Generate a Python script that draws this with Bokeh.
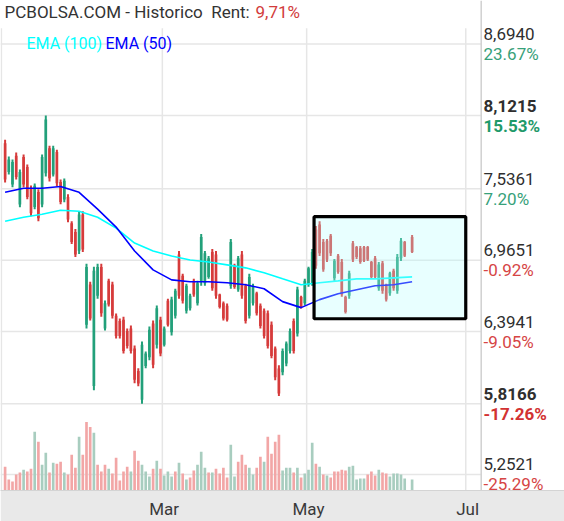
from bokeh.plotting import figure
from bokeh.models import Range1d, FixedTicker, ColumnDataSource
from bokeh.core.properties import value
from bokeh.embed import file_html
from bokeh.resources import INLINE

# ---------------- data ----------------
# trading-session slot (slot 109 had no session)
day = list(range(109)) + [110]
high = [7.929, 7.794, 7.770, 7.826, 7.691, 7.810, 7.730, 7.563, 7.579, 7.532,
        7.810, 8.1215, 7.881, 7.881, 7.849, 7.611, 7.619, 7.492, 7.277, 7.214,
        7.357, 7.357, 6.936, 6.793, 6.912, 6.936, 6.936, 6.642, 6.816, 6.793,
        6.538, 6.499, 6.514, 6.419, 6.443, 6.284, 6.101, 6.316, 6.236, 6.435,
        6.483, 6.602, 6.514, 6.435, 6.657, 6.673, 6.737, 7.039, 6.856, 6.777,
        6.697, 6.816, 6.800, 7.174, 7.039, 6.999, 7.055, 7.039, 6.697, 6.634,
        6.618, 7.134, 6.936, 6.999, 7.039, 6.777, 6.856, 6.777, 6.713, 6.618,
        6.578, 6.562, 6.475, 6.276, 6.125, 6.260, 6.316, 6.419, 6.499, 6.753,
        6.681, 6.816, 6.912, 7.055, 7.238, 7.277, 7.134, 7.134, 7.174, 6.975,
        7.015, 6.975, 6.681, 6.880, 7.118, 7.079, 7.079, 7.079, 7.079, 6.959,
        6.999, 6.951, 6.959, 6.777, 6.872, 6.896, 7.015, 7.142, 7.118, 7.166]
low = [7.587, 7.651, 7.548, 7.611, 7.389, 7.548, 7.452, 7.317, 7.373, 7.277,
       7.389, 7.635, 7.595, 7.635, 7.555, 7.412, 7.428, 7.269, 7.095, 6.991,
       7.015, 7.031, 6.419, 6.483, 5.926, 6.657, 6.514, 6.403, 6.594, 6.499,
       6.340, 6.340, 6.220, 6.260, 6.220, 5.982, 5.958, 5.8166, 6.101, 6.165,
       6.101, 6.260, 6.197, 6.276, 6.435, 6.363, 6.499, 6.657, 6.618, 6.538,
       6.562, 6.673, 6.602, 6.761, 6.761, 6.816, 6.721, 6.657, 6.578, 6.483,
       6.475, 6.737, 6.737, 6.713, 6.657, 6.459, 6.499, 6.602, 6.523, 6.419,
       6.340, 6.260, 6.181, 6.006, 5.879, 6.046, 6.117, 6.220, 6.220, 6.355,
       6.578, 6.602, 6.753, 6.761, 6.896, 6.999, 6.872, 6.951, 6.999, 6.800,
       6.856, 6.673, 6.538, 6.657, 6.951, 6.975, 6.936, 6.951, 6.959, 6.816,
       6.816, 6.721, 6.697, 6.634, 6.681, 6.721, 6.697, 6.959, 6.991, 7.023]
open_ = [7.90, 7.67, 7.57, 7.80, 7.41, 7.79, 7.71, 7.54, 7.39, 7.51,
         7.41, 7.66, 7.86, 7.65, 7.83, 7.59, 7.45, 7.47, 7.26, 7.19,
         7.04, 7.33, 6.45, 6.77, 5.96, 6.68, 6.91, 6.42, 6.80, 6.77,
         6.52, 6.48, 6.49, 6.40, 6.42, 6.26, 6.08, 5.85, 6.12, 6.19,
         6.46, 6.29, 6.49, 6.29, 6.64, 6.39, 6.52, 7.01, 6.84, 6.56,
         6.58, 6.80, 6.62, 6.79, 6.78, 6.83, 7.03, 7.01, 6.69, 6.62,
         6.60, 6.76, 6.92, 6.73, 7.01, 6.76, 6.52, 6.62, 6.70, 6.60,
         6.56, 6.54, 6.45, 6.26, 6.10, 6.07, 6.14, 6.24, 6.48, 6.38,
         6.67, 6.62, 6.77, 6.78, 7.21, 7.25, 7.11, 7.12, 7.16, 6.82,
         7.00, 6.95, 6.67, 6.68, 7.10, 7.07, 7.06, 7.07, 7.07, 6.95,
         6.98, 6.74, 6.94, 6.77, 6.70, 6.88, 6.72, 6.98, 7.11, 7.15]
close = [7.61, 7.77, 7.75, 7.63, 7.67, 7.57, 7.47, 7.34, 7.56, 7.30,
         7.79, 8.09, 7.62, 7.86, 7.58, 7.43, 7.60, 7.29, 7.11, 7.01,
         7.33, 7.05, 6.91, 6.50, 6.88, 6.91, 6.54, 6.62, 6.61, 6.52,
         6.36, 6.36, 6.24, 6.28, 6.24, 6.01, 5.98, 6.29, 6.22, 6.41,
         6.13, 6.58, 6.22, 6.42, 6.45, 6.65, 6.72, 6.68, 6.64, 6.76,
         6.68, 6.69, 6.78, 7.15, 7.02, 6.98, 6.74, 6.68, 6.59, 6.50,
         6.49, 7.11, 6.75, 6.98, 6.68, 6.48, 6.83, 6.76, 6.54, 6.44,
         6.36, 6.28, 6.20, 6.03, 5.90, 6.24, 6.30, 6.40, 6.24, 6.73,
         6.59, 6.80, 6.90, 7.03, 6.92, 7.02, 6.89, 6.97, 7.02, 6.96,
         6.87, 6.69, 6.55, 6.86, 6.97, 6.99, 6.95, 6.96, 6.97, 6.83,
         6.83, 6.93, 6.72, 6.65, 6.86, 6.74, 6.99, 7.12, 7.00, 7.03]
volume = [24, 11, 9, 16, 18, 21, 19, 22, 59, 49,
          26, 38, 18, 28, 27, 29, 18, 16, 36, 23,
          54, 36, 69, 64, 58, 26, 19, 26, 22, 17,
          33, 10, 19, 24, 19, 40, 30, 26, 19, 14,
          22, 30, 22, 15, 19, 14, 19, 28, 17, 11,
          13, 20, 26, 39, 23, 18, 18, 22, 17, 23,
          13, 46, 14, 29, 36, 26, 23, 16, 23, 34,
          29, 54, 37, 49, 56, 20, 23, 23, 18, 23,
          13, 17, 21, 48, 27, 24, 16, 15, 13, 19,
          19, 21, 20, 24, 25, 11, 12, 12, 16, 19,
          15, 21, 18, 17, 14, 17, 17, 16, 12, 11]   # thousand shares
volume_up = [0, 0, 0, 0, 0, 1, 0, 0, 1, 0,
             1, 1, 0, 1, 0, 0, 1, 0, 0, 0,
             1, 0, 0, 0, 1, 0, 0, 0, 1, 0,
             0, 0, 0, 0, 1, 0, 0, 1, 1, 1,
             0, 1, 0, 1, 1, 1, 0, 1, 0, 1,
             0, 0, 1, 1, 1, 0, 1, 0, 0, 0,
             0, 1, 1, 0, 0, 0, 1, 1, 0, 0,
             1, 0, 0, 0, 0, 1, 1, 1, 0, 1,
             0, 1, 1, 1, 0, 1, 0, 1, 0, 0,
             0, 0, 0, 1, 1, 1, 1, 1, 0, 0,
             0, 1, 0, 0, 1, 1, 1, 1, 1, 1]
ema_day = [0, 5, 10, 15, 20, 25, 30, 35, 40, 45, 50, 55, 60, 65, 70, 75, 80,
           85, 90, 95, 100, 105, 110]
ema50 = [7.508, 7.540, 7.540, 7.555, 7.508, 7.373, 7.230, 7.039, 6.888, 6.808,
         6.793, 6.793, 6.785, 6.769, 6.737, 6.634, 6.586, 6.650, 6.697, 6.729,
         6.761, 6.769, 6.793]
ema100 = [7.277, 7.309, 7.333, 7.365, 7.357, 7.309, 7.222, 7.102, 7.039, 6.999,
          6.967, 6.951, 6.928, 6.904, 6.864, 6.816, 6.769, 6.785, 6.800, 6.816,
          6.816, 6.824, 6.832]
price_ticks = [8.6940, 8.1215, 7.5361, 6.9651, 6.3941, 5.8166, 5.2521]
month_grid = [-1.0, 42.5, 81.5, 124.5]      # month boundaries
month_first = [0, 43, 82, 125]              # first session of each month
month_labels = ["", "Mar", "May", "Jul"]
range_box = dict(start=83.5, end=124.5, top=7.313, bottom=6.497)

# ---------------- geometry helpers (pixel <-> data for annotations) ----------------
W, H = 564, 521
FRAME_H = 493
PX0, PXS = 4.6, 3.7          # pixel of slot 0, pixels per slot
Y_TOP, PYS = 9.0415, 125.84  # price at frame top, pixels per price unit


def xd(px):
    return (px - PX0) / PXS


def yd(py):
    return Y_TOP - py / PYS


FONT = value("Roboto")
RED, GREEN = "#d63b3b", "#22a07a"
VRED, VGREEN = "#f2a6a6", "#a8cdbf"

p = figure(width=W, height=H, output_backend="svg", toolbar_location=None,
           x_range=Range1d(xd(0), xd(W)), y_range=Range1d(yd(FRAME_H), Y_TOP),
           y_axis_location=None, min_border_left=0, min_border_right=0,
           min_border_top=0, min_border_bottom=28)
p.outline_line_color = None
p.xgrid.visible = False
p.ygrid.visible = False
p.background_fill_color = "white"
p.border_fill_color = "#e9e9e9"

ax = p.xaxis[0]
ax.ticker = FixedTicker(ticks=month_first)
ax.major_label_overrides = {t: l for t, l in zip(month_first, month_labels)}
ax.major_tick_line_color = None
ax.minor_tick_line_color = None
ax.axis_line_color = "#d4d4d4"
ax.major_label_text_font = "Roboto"
ax.major_label_text_font_size = "17px"
ax.major_label_text_color = "#3a3a3a"
ax.major_label_standoff = 2

# grid
grid_top = yd(28)
axis_x = xd(480.7)
p.segment(x0=month_grid, y0=[yd(FRAME_H)] * len(month_grid), x1=month_grid,
          y1=[grid_top] * len(month_grid), line_color="#e6e6e6", line_width=1.5)
p.segment(x0=[xd(0)] * len(price_ticks), y0=price_ticks, x1=[axis_x] * len(price_ticks),
          y1=price_ticks, line_color="#e6e6e6", line_width=1.5)
p.segment(x0=[axis_x], y0=[yd(FRAME_H)], x1=[axis_x], y1=[Y_TOP],
          line_color="#d0d0d0", line_width=1.5)

# volume
p.extra_y_ranges = {"vol": Range1d(0, FRAME_H)}
p.vbar(x=day, top=volume, bottom=0, width=0.72, y_range_name="vol",
       fill_color=[VGREEN if u else VRED for u in volume_up], line_color=None)

# candles
src = ColumnDataSource(dict(
    x=day, high=high, low=low,
    top=[max(o, c) for o, c in zip(open_, close)],
    bottom=[min(o, c) for o, c in zip(open_, close)],
    color=[GREEN if c >= o else RED for o, c in zip(open_, close)]))
p.segment(x0="x", y0="high", x1="x", y1="low", line_color="color", line_width=2, source=src)
p.vbar(x="x", top="top", bottom="bottom", width=0.72, fill_color="color",
       line_color=None, source=src)

# EMAs
p.line(ema_day, ema100, line_color="#00ffff", line_width=1.6)
p.line(ema_day, ema50, line_color="#0000ff", line_width=1.6)

# recent range box
p.quad(left=[range_box["start"]], right=[range_box["end"]], top=[range_box["top"]],
       bottom=[range_box["bottom"]], fill_color="#b4ffff", fill_alpha=0.3,
       line_color="black", line_width=3.2)

# right scale labels
ref_price = close[-1]
price_txt = [("%.4f" % t).replace(".", ",") for t in price_ticks]
pct = [(t / ref_price - 1) * 100 for t in price_ticks]
pct_txt = ["%.2f%%" % v for v in pct]
bold = [abs(t - max(high)) < 1e-9 or abs(t - min(low)) < 1e-9 for t in price_ticks]
lx = xd(483)
for i, t in enumerate(price_ticks):
    style = "bold" if bold[i] else "normal"
    p.text(x=[lx], y=[t], text=[price_txt[i]], text_font=FONT, text_font_size="17px",
           text_font_style=style, text_color="#2f2f2f", text_baseline="middle",
           text_align="left", y_offset=-10)
    col = ("#1f9a6a" if bold[i] else "#37a17a") if pct[i] >= 0 else \
          ("#d23232" if bold[i] else "#d64545")
    p.text(x=[lx], y=[t], text=[pct_txt[i]], text_font=FONT, text_font_size="17px",
           text_font_style=style, text_color=col, text_baseline="middle",
           text_align="left", y_offset=10)

# title and legend
p.text(x=[xd(4)], y=[yd(12)], text=["PCBOLSA.COM - Historico\u00a0\u00a0Rent:"], text_font=FONT,
       text_font_size="17px", text_color="#333333", text_baseline="middle")
p.text(x=[xd(255)], y=[yd(12)], text=["9,71%"], text_font=FONT,
       text_font_size="17px", text_color="#d23c3c", text_baseline="middle")
p.text(x=[xd(26)], y=[yd(43)], text=["EMA (100)"], text_font=FONT,
       text_font_size="16px", text_color="#00ffff", text_baseline="middle")
p.text(x=[xd(105)], y=[yd(43)], text=["EMA (50)"], text_font=FONT,
       text_font_size="16px", text_color="#0000ff", text_baseline="middle")

open("out.html", "w").write(file_html(p, INLINE))
